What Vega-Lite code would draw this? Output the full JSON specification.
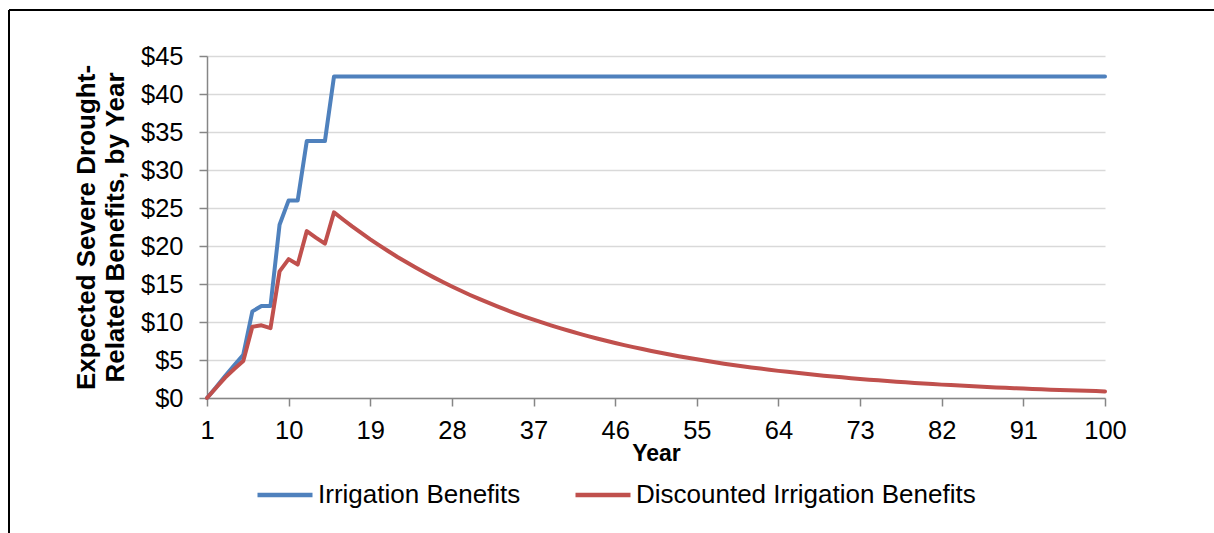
{
  "$schema": "https://vega.github.io/schema/vega-lite/v6.json",
  "width": 1205,
  "height": 523,
  "autosize": {"type": "none"},
  "padding": {"left": 9, "top": 10, "right": 0, "bottom": 0},
  "background": "#ffffff",
  "config": {
    "font": "Liberation Sans",
    "view": {"stroke": "#000000", "strokeWidth": 2, "strokeDash": [1205, 1728, 523, 0]}
  },
  "data": {
    "values": [
      {"year": 1, "irrigation": 0, "discounted": 0},
      {"year": 2, "irrigation": 1.4, "discounted": 1.35},
      {"year": 3, "irrigation": 2.9, "discounted": 2.68},
      {"year": 4, "irrigation": 4.3, "discounted": 3.82},
      {"year": 5, "irrigation": 5.7, "discounted": 4.87},
      {"year": 6, "irrigation": 11.4, "discounted": 9.37},
      {"year": 7, "irrigation": 12.1, "discounted": 9.56},
      {"year": 8, "irrigation": 12.1, "discounted": 9.19},
      {"year": 9, "irrigation": 22.8, "discounted": 16.66},
      {"year": 10, "irrigation": 26.0, "discounted": 18.27},
      {"year": 11, "irrigation": 26.0, "discounted": 17.56},
      {"year": 12, "irrigation": 33.8, "discounted": 21.96},
      {"year": 13, "irrigation": 33.8, "discounted": 21.11},
      {"year": 14, "irrigation": 33.8, "discounted": 20.30},
      {"year": 15, "irrigation": 42.3, "discounted": 24.43},
      {"year": 16, "irrigation": 42.3, "discounted": 23.49},
      {"year": 17, "irrigation": 42.3, "discounted": 22.58},
      {"year": 18, "irrigation": 42.3, "discounted": 21.72},
      {"year": 19, "irrigation": 42.3, "discounted": 20.88},
      {"year": 20, "irrigation": 42.3, "discounted": 20.08},
      {"year": 21, "irrigation": 42.3, "discounted": 19.31},
      {"year": 22, "irrigation": 42.3, "discounted": 18.56},
      {"year": 23, "irrigation": 42.3, "discounted": 17.85},
      {"year": 24, "irrigation": 42.3, "discounted": 17.16},
      {"year": 25, "irrigation": 42.3, "discounted": 16.50},
      {"year": 26, "irrigation": 42.3, "discounted": 15.87},
      {"year": 27, "irrigation": 42.3, "discounted": 15.26},
      {"year": 28, "irrigation": 42.3, "discounted": 14.67},
      {"year": 29, "irrigation": 42.3, "discounted": 14.11},
      {"year": 30, "irrigation": 42.3, "discounted": 13.56},
      {"year": 31, "irrigation": 42.3, "discounted": 13.04},
      {"year": 32, "irrigation": 42.3, "discounted": 12.54},
      {"year": 33, "irrigation": 42.3, "discounted": 12.06},
      {"year": 34, "irrigation": 42.3, "discounted": 11.59},
      {"year": 35, "irrigation": 42.3, "discounted": 11.15},
      {"year": 36, "irrigation": 42.3, "discounted": 10.72},
      {"year": 37, "irrigation": 42.3, "discounted": 10.31},
      {"year": 38, "irrigation": 42.3, "discounted": 9.91},
      {"year": 39, "irrigation": 42.3, "discounted": 9.53},
      {"year": 40, "irrigation": 42.3, "discounted": 9.16},
      {"year": 41, "irrigation": 42.3, "discounted": 8.81},
      {"year": 42, "irrigation": 42.3, "discounted": 8.47},
      {"year": 43, "irrigation": 42.3, "discounted": 8.15},
      {"year": 44, "irrigation": 42.3, "discounted": 7.83},
      {"year": 45, "irrigation": 42.3, "discounted": 7.53},
      {"year": 46, "irrigation": 42.3, "discounted": 7.24},
      {"year": 47, "irrigation": 42.3, "discounted": 6.96},
      {"year": 48, "irrigation": 42.3, "discounted": 6.70},
      {"year": 49, "irrigation": 42.3, "discounted": 6.44},
      {"year": 50, "irrigation": 42.3, "discounted": 6.19},
      {"year": 51, "irrigation": 42.3, "discounted": 5.95},
      {"year": 52, "irrigation": 42.3, "discounted": 5.72},
      {"year": 53, "irrigation": 42.3, "discounted": 5.50},
      {"year": 54, "irrigation": 42.3, "discounted": 5.29},
      {"year": 55, "irrigation": 42.3, "discounted": 5.09},
      {"year": 56, "irrigation": 42.3, "discounted": 4.89},
      {"year": 57, "irrigation": 42.3, "discounted": 4.70},
      {"year": 58, "irrigation": 42.3, "discounted": 4.52},
      {"year": 59, "irrigation": 42.3, "discounted": 4.35},
      {"year": 60, "irrigation": 42.3, "discounted": 4.18},
      {"year": 61, "irrigation": 42.3, "discounted": 4.02},
      {"year": 62, "irrigation": 42.3, "discounted": 3.87},
      {"year": 63, "irrigation": 42.3, "discounted": 3.72},
      {"year": 64, "irrigation": 42.3, "discounted": 3.57},
      {"year": 65, "irrigation": 42.3, "discounted": 3.44},
      {"year": 66, "irrigation": 42.3, "discounted": 3.31},
      {"year": 67, "irrigation": 42.3, "discounted": 3.18},
      {"year": 68, "irrigation": 42.3, "discounted": 3.06},
      {"year": 69, "irrigation": 42.3, "discounted": 2.94},
      {"year": 70, "irrigation": 42.3, "discounted": 2.83},
      {"year": 71, "irrigation": 42.3, "discounted": 2.72},
      {"year": 72, "irrigation": 42.3, "discounted": 2.61},
      {"year": 73, "irrigation": 42.3, "discounted": 2.51},
      {"year": 74, "irrigation": 42.3, "discounted": 2.41},
      {"year": 75, "irrigation": 42.3, "discounted": 2.32},
      {"year": 76, "irrigation": 42.3, "discounted": 2.23},
      {"year": 77, "irrigation": 42.3, "discounted": 2.15},
      {"year": 78, "irrigation": 42.3, "discounted": 2.06},
      {"year": 79, "irrigation": 42.3, "discounted": 1.98},
      {"year": 80, "irrigation": 42.3, "discounted": 1.91},
      {"year": 81, "irrigation": 42.3, "discounted": 1.84},
      {"year": 82, "irrigation": 42.3, "discounted": 1.76},
      {"year": 83, "irrigation": 42.3, "discounted": 1.70},
      {"year": 84, "irrigation": 42.3, "discounted": 1.63},
      {"year": 85, "irrigation": 42.3, "discounted": 1.57},
      {"year": 86, "irrigation": 42.3, "discounted": 1.51},
      {"year": 87, "irrigation": 42.3, "discounted": 1.45},
      {"year": 88, "irrigation": 42.3, "discounted": 1.39},
      {"year": 89, "irrigation": 42.3, "discounted": 1.34},
      {"year": 90, "irrigation": 42.3, "discounted": 1.29},
      {"year": 91, "irrigation": 42.3, "discounted": 1.24},
      {"year": 92, "irrigation": 42.3, "discounted": 1.19},
      {"year": 93, "irrigation": 42.3, "discounted": 1.15},
      {"year": 94, "irrigation": 42.3, "discounted": 1.10},
      {"year": 95, "irrigation": 42.3, "discounted": 1.06},
      {"year": 96, "irrigation": 42.3, "discounted": 1.02},
      {"year": 97, "irrigation": 42.3, "discounted": 0.98},
      {"year": 98, "irrigation": 42.3, "discounted": 0.94},
      {"year": 99, "irrigation": 42.3, "discounted": 0.91},
      {"year": 100, "irrigation": 42.3, "discounted": 0.87}
    ]
  },
  "transform": [
    {"fold": ["irrigation", "discounted"], "as": ["series", "benefit"]}
  ],
  "mark": {"type": "line", "strokeWidth": 4, "strokeCap": "round", "strokeJoin": "round"},
  "encoding": {
    "x": {
      "field": "year",
      "type": "quantitative",
      "scale": {"domain": [1, 100], "range": [198, 1096], "nice": false, "zero": false},
      "axis": {
        "values": [1, 10, 19, 28, 37, 46, 55, 64, 73, 82, 91, 100],
        "offset": -135,
        "grid": false,
        "domainColor": "#868686",
        "domainWidth": 1.5,
        "tickColor": "#868686",
        "tickWidth": 1.5,
        "tickSize": 8,
        "labelFontSize": 25.5,
        "labelColor": "#000000",
        "labelPadding": 12,
        "labelFlush": false,
        "labelOverlap": false,
        "title": "Year",
        "titleFontSize": 23,
        "titleFontWeight": "bold",
        "titleColor": "#000000",
        "titlePadding": -1
      }
    },
    "y": {
      "field": "benefit",
      "type": "quantitative",
      "scale": {"domain": [0, 45], "range": [388, 46], "nice": false, "zero": true},
      "axis": {
        "values": [0, 5, 10, 15, 20, 25, 30, 35, 40, 45],
        "labelExpr": "'$' + datum.value",
        "offset": -198,
        "grid": true,
        "gridColor": "#d9d9d9",
        "gridWidth": 1.5,
        "domainColor": "#868686",
        "domainWidth": 1.5,
        "tickColor": "#868686",
        "tickWidth": 1.5,
        "tickSize": 8,
        "labelFontSize": 25.5,
        "labelColor": "#000000",
        "labelPadding": 16,
        "labelFlush": false,
        "labelOverlap": false,
        "title": ["Expected Severe Drought-", "Related Benefits, by Year"],
        "titleFontSize": 26,
        "titleFontWeight": "bold",
        "titleColor": "#000000",
        "titleLineHeight": 29,
        "titlePadding": 12
      }
    },
    "color": {
      "field": "series",
      "type": "nominal",
      "scale": {"domain": ["irrigation", "discounted"], "range": ["#4F81BD", "#C0504D"]},
      "legend": {
        "orient": "none",
        "legendX": 246,
        "legendY": 455,
        "direction": "horizontal",
        "title": null,
        "padding": 0,
        "symbolType": "stroke",
        "symbolSize": 3025,
        "symbolStrokeWidth": 4.5,
        "labelFontSize": 26,
        "labelColor": "#000000",
        "labelOffset": 3,
        "columnPadding": 45,
        "labelLimit": 500,
        "labelExpr": "datum.value == 'irrigation' ? 'Irrigation Benefits' : 'Discounted Irrigation Benefits'"
      }
    }
  }
}
